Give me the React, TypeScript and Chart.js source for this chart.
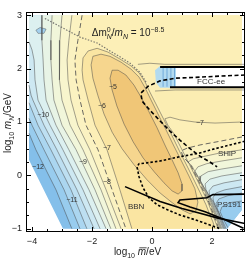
import { useEffect, useRef } from "react";
import { Chart, registerables } from "chart.js";

Chart.register(...registerables);

type Pt = [number, number];

// ---------- axes ----------
const X_MIN = -4.2;
const X_MAX = 3.1;
const Y_MIN = -1.06;
const Y_MAX = 3.06;
const X_TICK_LABELS = [-4, -2, 0, 2];
const Y_TICK_LABELS = [-1, 0, 1, 2, 3];
const X_MINOR_STEP = 0.5;
const Y_MINOR_STEP = 0.25;

// ---------- domain of the scan (white outside) ----------
const DOMAIN: Pt[] = [[-4.1, 3], [3, 3], [3, -0.645], [2.5, -1], [-2.967, -1], [-4.1, 0.29]];
const CORNER_TL: Pt = [-4.1, 3];
const CORNER_TR: Pt = [3, 3];
const CUT_BR: Pt = [2.5, -1];
const CUT_R: Pt = [3, -0.645];

// ---------- contour lines, left family (log10 level) ----------
const L_12: Pt[] = [[-4.1, 0.79], [-3.87, 0.48], [-3.2, -0.27], [-2.67, -1.0]];
const L_11_5: Pt[] = [[-4.1, 1.07], [-4.0, 0.94], [-3.6, 0.48], [-2.93, -0.27], [-2.4, -1.0]];
const L_11: Pt[] = [[-4.1, 1.36], [-3.8, 0.94], [-3.37, 0.48], [-2.7, -0.27], [-2.17, -1.0]];
const L_10_5: Pt[] = [[-4.1, 1.69], [-4.03, 1.5], [-3.97, 1.41], [-3.6, 0.94], [-3.17, 0.48], [-2.5, -0.27], [-1.93, -1.0]];
const L_10: Pt[] = [[-4.1, 2.5], [-4.0, 2.35], [-3.93, 2.16], [-3.9, 1.79], [-3.8, 1.41], [-3.4, 0.94], [-2.97, 0.48], [-2.3, -0.27], [-1.73, -1.0]];
const L_9_5: Pt[] = [[-3.67, 3], [-3.67, 2.53], [-3.63, 2.16], [-3.6, 1.79], [-3.53, 1.41], [-3.2, 0.94], [-2.77, 0.48], [-2.1, -0.27], [-1.53, -1.0]];
const L_9: Pt[] = [[-3.33, 3], [-3.37, 2.53], [-3.37, 2.16], [-3.33, 1.79], [-3.27, 1.41], [-3.0, 0.94], [-2.53, 0.48], [-1.9, -0.27], [-1.37, -1.0]];
const L_8_5: Pt[] = [[-3.0, 3], [-3.07, 2.53], [-3.1, 2.16], [-3.07, 1.79], [-3.0, 1.41], [-2.73, 0.94], [-2.3, 0.48], [-1.7, -0.27], [-1.2, -1.0]];
const L_8: Pt[] = [[-2.67, 3], [-2.77, 2.53], [-2.83, 2.16], [-2.8, 1.79], [-2.7, 1.41], [-2.47, 0.94], [-2.07, 0.48], [-1.53, -0.27], [-1.03, -1.0]];
const L_7_5: Pt[] = [[-2.33, 3], [-2.47, 2.53], [-2.57, 2.16], [-2.53, 1.79], [-2.4, 1.41], [-2.2, 0.94], [-1.8, 0.48], [-1.33, -0.27], [-0.87, -1.0]];
const L_7: Pt[] = [
  [-0.67, -1.0], [-1.07, -0.27], [-1.5, 0.48], [-1.9, 0.94], [-2.13, 1.41], [-2.3, 1.79], [-2.33, 1.97], [-2.3, 2.2],
  [-2.13, 2.33], [-1.83, 2.38], [-1.47, 2.31], [-1.07, 2.18], [-0.7, 2.05], [-0.43, 1.92], [-0.23, 1.75], [-0.07, 1.56],
  [0.13, 1.34], [0.4, 1.04], [0.67, 0.74], [0.93, 0.44], [1.2, 0.14], [1.43, -0.12], [1.63, -0.35], [1.8, -0.55],
  [1.93, -0.74], [2.03, -0.87], [2.1, -1.0],
];
const E_6: Pt[] = [
  [-1.97, 2.23], [-1.7, 2.27], [-1.4, 2.23], [-1.03, 2.12], [-0.7, 1.99], [-0.43, 1.84], [-0.23, 1.64], [-0.03, 1.41],
  [0.2, 1.15], [0.47, 0.85], [0.73, 0.55], [1.0, 0.25], [1.23, -0.01], [1.43, -0.25], [1.53, -0.5], [1.47, -0.66],
  [1.27, -0.72], [1.0, -0.645], [0.67, -0.51], [0.27, -0.33], [-0.17, -0.08], [-0.6, 0.2], [-1.0, 0.5], [-1.33, 0.81],
  [-1.6, 1.15], [-1.8, 1.49], [-1.97, 1.82], [-2.03, 2.07], [-1.97, 2.23],
];
const E_5: Pt[] = [
  [-1.33, 1.97], [-1.13, 1.97], [-0.87, 1.88], [-0.6, 1.69], [-0.37, 1.47], [-0.1, 1.19], [0.17, 0.89], [0.43, 0.57],
  [0.67, 0.29], [0.87, 0.05], [1.0, -0.16], [1.0, -0.29], [0.87, -0.35], [0.67, -0.29], [0.4, -0.14], [0.07, 0.07],
  [-0.3, 0.33], [-0.63, 0.63], [-0.93, 0.96], [-1.17, 1.3], [-1.33, 1.6], [-1.4, 1.82], [-1.33, 1.97],
];

// ---------- contour lines, right family ----------
const R_7: Pt[] = [[3.0, 1.0], [2.1, 0.98], [1.43, 1.0], [0.93, 1.04], [0.6, 1.09], [0.43, 1.06], [0.53, 0.94], [0.73, 0.78], [1.0, 0.48], [1.27, 0.18], [1.5, -0.08], [1.7, -0.31], [1.87, -0.51], [2.0, -0.7], [2.1, -0.85], [2.2, -1.0]];
const R_7_5: Pt[] = [[3.0, 0.72], [2.27, 0.64], [1.6, 0.57], [1.17, 0.51], [0.97, 0.46], [1.03, 0.36], [1.3, 0.18], [1.53, -0.08], [1.73, -0.31], [1.9, -0.51], [2.03, -0.7], [2.13, -0.85], [2.23, -1.0]];
const R_8: Pt[] = [[3.0, 0.48], [2.27, 0.42], [1.77, 0.36], [1.37, 0.31], [1.2, 0.25], [1.33, 0.18], [1.57, -0.08], [1.77, -0.31], [1.93, -0.51], [2.07, -0.7], [2.17, -0.85], [2.27, -1.0]];
const R_8_5: Pt[] = [[3.0, 0.33], [2.33, 0.27], [1.83, 0.22], [1.53, 0.16], [1.43, 0.08], [1.6, -0.08], [1.8, -0.31], [1.97, -0.51], [2.1, -0.7], [2.2, -0.85], [2.3, -1.0]];
const R_9: Pt[] = [[3.0, 0.18], [2.33, 0.12], [1.87, 0.07], [1.63, -0.01], [1.6, -0.1], [1.83, -0.31], [2.0, -0.51], [2.13, -0.7], [2.23, -0.85], [2.33, -1.0]];
const R_9_5: Pt[] = [[3.0, 0.05], [2.33, -0.01], [1.93, -0.07], [1.77, -0.16], [1.8, -0.27], [2.03, -0.51], [2.17, -0.7], [2.27, -0.85], [2.37, -1.0]];
const R_10: Pt[] = [[3.0, -0.08], [2.4, -0.14], [2.03, -0.2], [1.9, -0.29], [1.93, -0.4], [2.07, -0.51], [2.2, -0.7], [2.3, -0.85], [2.4, -1.0]];
const R_10_5: Pt[] = [[3.0, -0.21], [2.43, -0.27], [2.13, -0.33], [2.03, -0.42], [2.07, -0.53], [2.23, -0.7], [2.33, -0.85], [2.43, -1.0]];
const R_11: Pt[] = [[3.0, -0.33], [2.53, -0.38], [2.23, -0.44], [2.13, -0.53], [2.2, -0.66], [2.3, -0.79], [2.4, -0.91], [2.47, -1.0]];
const R_11_5: Pt[] = [[3.0, -0.48], [2.6, -0.51], [2.33, -0.59], [2.27, -0.68], [2.37, -0.81], [2.53, -0.98]];
const R7_EDGE: Pt[] = [[0.25, 1.3], [0.03, 1.57], [0.77, 1.6], [3.0, 1.6]];

// ---------- fold / small features ----------
const V_UPPER: Pt[] = [[-3.57, 2.94], [-2.97, 2.76], [-2.4, 2.59], [-1.83, 2.48], [-1.4, 2.33], [-1.07, 2.22], [-0.73, 2.1], [-0.4, 1.93], [-0.2, 1.75]];
const SWIRL: Pt[] = [[-3.87, 2.72], [-3.73, 2.77], [-3.53, 2.74], [-3.6, 2.66], [-3.8, 2.66], [-3.87, 2.72]];
const FCC_HUG_TOP: Pt[] = [[-0.47, 2.08], [-0.07, 2.1], [0.43, 2.08], [3.1, 2.08]];
const FCC_HUG_BOT: Pt[] = [[0.1, 1.58], [0.77, 1.6], [3.1, 1.6]];
const FCC_BLUE: Pt[] = [[0.1, 1.97], [0.27, 2.05], [0.83, 2.05], [0.83, 1.64], [0.27, 1.64], [0.13, 1.74]];
const FCC_BLUE_X = [0.37, 0.5, 0.63, 0.75];
const FCC_WHITE: Pt[] = [[0.8, 2.03], [3.1, 2.03], [3.1, 1.65], [0.8, 1.65]];

// ---------- experimental curves ----------
const FCC_TOP: Pt[] = [[0.27, 2.03], [3.1, 2.03]];
const FCC_BOTTOM: Pt[] = [[0.6, 1.65], [3.1, 1.65]];
const FCC_DASHED: Pt[] = [[3.1, 1.88], [2.27, 1.86], [1.6, 1.84], [0.77, 1.82], [0.27, 1.77], [-0.13, 1.67], [-0.37, 1.54], [-0.33, 1.39], [-0.07, 1.22], [0.27, 1.02], [0.6, 0.83], [0.93, 0.66], [1.27, 0.5], [1.6, 0.36], [1.93, 0.25], [2.17, 0.16]];
const SHIP: Pt[] = [[3.1, 0.64], [2.6, 0.57], [2.1, 0.5], [1.6, 0.42], [0.93, 0.35], [0.27, 0.27], [-0.23, 0.23], [-0.43, 0.22], [-0.5, 0.16], [-0.43, -0.03], [-0.3, -0.23], [-0.1, -0.42], [0.17, -0.55], [0.5, -0.64], [0.93, -0.74], [1.43, -0.83], [1.93, -0.93], [2.27, -1.0]];
const PS191: Pt[] = [[3.1, -0.35], [2.03, -0.36], [1.83, -0.42], [0.93, -0.46], [0.87, -0.51], [1.27, -0.59], [1.77, -0.68], [2.43, -0.83], [3.05, -0.99]];
const BBN: Pt[] = [[-0.9, -0.21], [0.27, -0.49], [1.0, -0.62], [1.6, -0.71], [2.2, -0.8], [3.1, -0.9]];

// ---------- colours of the bands (low -> high) ----------
const BAND = ["#84bfea", "#98ccee", "#abd6f0", "#bddff1", "#cde8f2", "#dcf0f0", "#e8f4e6", "#f1f6da", "#f8f5cd", "#fbf2c1", "#fcefb7", "#fae5a2", "#f6d68e", "#f0c677"];
const R7_COLOR = "#fbedb2";

// ---------- labels ----------
const CONTOUR_LABEL_TEXT = ["−5", "−6", "−7", "−8", "−9", "−10", "−11", "−12", "−7"];
const CONTOUR_LABEL_X = [-1.3, -1.67, -1.5, -1.5, -2.3, -3.63, -2.67, -3.8, 1.6];
const CONTOUR_LABEL_Y = [1.65, 1.3, 0.51, -0.12, 0.25, 1.13, -0.46, 0.16, 0.98];
const EXP_LABEL_TEXT = ["FCC-ee", "SHiP", "PS191", "BBN"];
const EXP_LABEL_X = [1.97, 2.5, 2.57, -0.53];
const EXP_LABEL_Y = [1.76, 0.4, -0.55, -0.59];
const TITLE_X = -0.8;
const TITLE_Y = 2.61;

const FONT = '"Liberation Sans", Arial, Helvetica, sans-serif';

type Seg = { t: string; size: number; it?: boolean; dy?: number; noAdv?: boolean; bar?: boolean };

function segFont(s: Seg) {
  return `${s.it ? "italic " : ""}${s.size}px ${FONT}`;
}

function drawRich(ctx: CanvasRenderingContext2D, segs: Seg[], cx: number, by: number) {
  let total = 0;
  const widths = segs.map((s) => {
    ctx.font = segFont(s);
    return ctx.measureText(s.t).width;
  });
  segs.forEach((s, i) => {
    if (!s.noAdv) total += widths[i];
  });
  let xx = cx - total / 2;
  ctx.textAlign = "left";
  ctx.textBaseline = "alphabetic";
  segs.forEach((s, i) => {
    ctx.font = segFont(s);
    ctx.fillText(s.t, xx, by + (s.dy || 0));
    if (s.bar) {
      ctx.save();
      ctx.lineWidth = 0.8;
      ctx.strokeStyle = ctx.fillStyle as string;
      ctx.beginPath();
      ctx.moveTo(xx + 1.5, by - s.size * 0.72);
      ctx.lineTo(xx + widths[i] + 0.5, by - s.size * 0.72);
      ctx.stroke();
      ctx.restore();
    }
    if (!s.noAdv) xx += widths[i];
  });
}

const decor = {
  id: "decor",
  afterDatasetsDraw(chart: any) {
    const { ctx, scales } = chart;
    const sx = scales.x;
    const sy = scales.y;
    ctx.save();
    ctx.fillStyle = "#333";
    ctx.textAlign = "center";
    ctx.textBaseline = "middle";
    ctx.font = `7px ${FONT}`;
    CONTOUR_LABEL_TEXT.forEach((t, i) => {
      ctx.fillText(t, sx.getPixelForValue(CONTOUR_LABEL_X[i]), sy.getPixelForValue(CONTOUR_LABEL_Y[i]));
    });
    ctx.font = `8px ${FONT}`;
    EXP_LABEL_TEXT.forEach((t, i) => {
      ctx.fillText(t, sx.getPixelForValue(EXP_LABEL_X[i]), sy.getPixelForValue(EXP_LABEL_Y[i]));
    });
    ctx.fillStyle = "#222";
    drawRich(
      ctx,
      [
        { t: "Δm", size: 10 },
        { t: "0", size: 7, dy: -4.5, noAdv: true },
        { t: "N", size: 7, it: true, dy: 2.5 },
        { t: "/", size: 10 },
        { t: "m", size: 10, it: true },
        { t: "N", size: 7, it: true, dy: 2.5 },
        { t: " = 10", size: 10 },
        { t: "−8.5", size: 7, dy: -4.5 },
      ],
      sx.getPixelForValue(TITLE_X),
      sy.getPixelForValue(TITLE_Y)
    );
    ctx.restore();
  },
  afterDraw(chart: any) {
    const { ctx, chartArea, scales } = chart;
    const sx = scales.x;
    const sy = scales.y;
    const { left, right, top, bottom } = chartArea;
    ctx.save();
    ctx.strokeStyle = "#000";
    ctx.lineWidth = 1;
    ctx.strokeRect(left + 0.5, top + 0.5, right - left - 1, bottom - top - 1);
    ctx.beginPath();
    for (let v = -4; v <= 3.0001; v += X_MINOR_STEP) {
      const p = Math.round(sx.getPixelForValue(v)) + 0.5;
      const major = X_TICK_LABELS.includes(Math.round(v * 10) / 10);
      const len = major ? 5 : 3;
      ctx.moveTo(p, bottom);
      ctx.lineTo(p, bottom - len);
      ctx.moveTo(p, top);
      ctx.lineTo(p, top + len);
    }
    for (let v = -1; v <= 3.0001; v += Y_MINOR_STEP) {
      const p = Math.round(sy.getPixelForValue(v)) + 0.5;
      const major = Y_TICK_LABELS.includes(Math.round(v * 100) / 100);
      const len = major ? 5 : 3;
      ctx.moveTo(left, p);
      ctx.lineTo(left + len, p);
      ctx.moveTo(right, p);
      ctx.lineTo(right - len, p);
    }
    ctx.stroke();

    ctx.fillStyle = "#222";
    ctx.font = `9px ${FONT}`;
    ctx.textAlign = "center";
    ctx.textBaseline = "middle";
    X_TICK_LABELS.forEach((v) => {
      ctx.fillText(v < 0 ? `−${Math.abs(v)}` : `${v}`, sx.getPixelForValue(v), bottom + 10);
    });
    ctx.textAlign = "right";
    Y_TICK_LABELS.forEach((v) => {
      ctx.fillText(v < 0 ? `−${Math.abs(v)}` : `${v}`, left - 4, sy.getPixelForValue(v));
    });

    drawRich(
      ctx,
      [
        { t: "log", size: 10 },
        { t: "10", size: 7, dy: 2.5 },
        { t: " ", size: 10 },
        { t: "m", size: 10, it: true, bar: true },
        { t: "/eV", size: 10 },
      ],
      (left + right) / 2 + 2,
      bottom + 23
    );
    ctx.save();
    ctx.translate(11, (top + bottom) / 2 + 1);
    ctx.rotate(-Math.PI / 2);
    drawRich(
      ctx,
      [
        { t: "log", size: 10 },
        { t: "10", size: 7, dy: 2.5 },
        { t: " ", size: 10 },
        { t: "m", size: 10, it: true },
        { t: "N", size: 7, it: true, dy: 2.5 },
        { t: "/GeV", size: 10 },
      ],
      0,
      0
    );
    ctx.restore();
    ctx.restore();
  },
};

const toXY = (pts: Pt[]) => pts.map(([x, y]) => ({ x, y }));
const rev = (a: Pt[]) => [...a].reverse();

export default function App() {
  const ref = useRef<HTMLCanvasElement | null>(null);

  useEffect(() => {
    if (!ref.current) return;

    const fills: { pts: Pt[]; color: string }[] = [
      { pts: DOMAIN, color: BAND[0] },
      { pts: [...L_12, CUT_BR, CUT_R, CORNER_TR, CORNER_TL], color: BAND[1] },
      { pts: [...L_11_5, CUT_BR, ...rev(R_11_5), CORNER_TR, CORNER_TL], color: BAND[2] },
      { pts: [...L_11, ...rev(R_11), CORNER_TR, CORNER_TL], color: BAND[3] },
      { pts: [...L_10_5, ...rev(R_10_5), CORNER_TR, CORNER_TL], color: BAND[4] },
      { pts: [...L_10, ...rev(R_10), CORNER_TR, CORNER_TL], color: BAND[5] },
      { pts: [...L_9_5, ...rev(R_9_5), CORNER_TR], color: BAND[6] },
      { pts: [...L_9, ...rev(R_9), CORNER_TR], color: BAND[7] },
      { pts: [...L_8_5, ...rev(R_8_5), CORNER_TR], color: BAND[8] },
      { pts: [...L_8, ...rev(R_8), CORNER_TR], color: BAND[9] },
      { pts: [...L_7_5, ...rev(R_7_5), CORNER_TR], color: BAND[10] },
      { pts: L_7, color: BAND[11] },
      { pts: [...R_7.slice(0, 6), ...R7_EDGE], color: R7_COLOR },
      { pts: E_6, color: BAND[12] },
      { pts: E_5, color: BAND[13] },
      { pts: SWIRL, color: "#a3d0ee" },
    ];

    const grey = "rgba(70,70,70,0.7)";
    const strokes: { pts: Pt[]; color: string; width: number; dash?: number[] }[] = [
      ...[L_12, L_11_5, L_11, L_10_5, L_10, L_9_5, L_9, L_8_5, L_8, L_7].map((pts) => ({ pts, color: grey, width: 0.7 })),
      { pts: L_7_5, color: "rgba(80,80,80,0.85)", width: 1, dash: [5, 3] },
      ...[R_7, R_8, R_8_5, R_9, R_9_5, R_10, R_10_5, R_11, R_11_5].map((pts) => ({ pts, color: grey, width: 0.7 })),
      { pts: R_7_5, color: "rgba(80,80,80,0.85)", width: 1, dash: [5, 3] },
      { pts: E_6, color: grey, width: 0.7 },
      { pts: E_5, color: grey, width: 0.7 },
      { pts: V_UPPER, color: "rgba(90,90,90,0.8)", width: 1.2, dash: [1.5, 1.5] },
      { pts: SWIRL, color: grey, width: 0.6 },
      { pts: FCC_HUG_TOP, color: grey, width: 0.7 },
      { pts: FCC_HUG_BOT, color: grey, width: 0.7 },
    ];

    const top: any[] = [
      { pts: FCC_BLUE, color: "#b3dbf0", fill: true },
      ...FCC_BLUE_X.map((x) => ({ pts: [[x, 1.66], [x, 2.02]] as Pt[], color: "rgba(60,130,200,0.8)", width: 0.7 })),
      { pts: FCC_WHITE, color: "#ffffff", fill: true },
      { pts: FCC_TOP, color: "#000", width: 2 },
      { pts: FCC_BOTTOM, color: "#000", width: 2 },
      { pts: FCC_DASHED, color: "#000", width: 1.6, dash: [4, 2.5] },
      { pts: SHIP, color: "#000", width: 1.6, dash: [2.5, 2] },
      { pts: PS191, color: "#000", width: 1.6 },
      { pts: BBN, color: "#000", width: 1.6 },
    ];

    const layered: any[] = [];
    fills.forEach((f) =>
      layered.push({
        data: toXY(f.pts),
        showLine: true,
        fill: "shape",
        backgroundColor: f.color,
        borderColor: "rgba(0,0,0,0)",
        borderWidth: 1,
        pointRadius: 0,
      })
    );
    strokes.forEach((s) =>
      layered.push({
        data: toXY(s.pts),
        showLine: true,
        fill: false,
        borderColor: s.color,
        borderWidth: s.width,
        borderDash: s.dash || [],
        pointRadius: 0,
      })
    );
    top.forEach((s) =>
      layered.push(
        s.fill
          ? {
              data: toXY(s.pts),
              showLine: true,
              fill: "shape",
              backgroundColor: s.color,
              borderColor: "rgba(0,0,0,0)",
              borderWidth: 1,
              pointRadius: 0,
            }
          : {
              data: toXY(s.pts),
              showLine: true,
              fill: false,
              borderColor: s.color,
              borderWidth: s.width,
              borderDash: s.dash || [],
              pointRadius: 0,
            }
      )
    );
    const n = layered.length;
    layered.forEach((d, i) => {
      d.order = n - i;
    });

    const chart = new Chart(ref.current, {
      type: "scatter",
      data: { datasets: layered },
      options: {
        animation: false,
        responsive: false,
        devicePixelRatio: 1,
        events: [],
        layout: { padding: { left: 26, right: 4, top: 12, bottom: 27 } },
        scales: {
          x: { type: "linear", min: X_MIN, max: X_MAX, display: false },
          y: { type: "linear", min: Y_MIN, max: Y_MAX, display: false },
        },
        elements: { point: { radius: 0 }, line: { tension: 0 } },
        plugins: {
          legend: { display: false },
          tooltip: { enabled: false },
          filler: { propagate: false },
        },
      } as any,
      plugins: [decor as any],
    });
    return () => chart.destroy();
  }, []);

  return (
    <div style={{ position: "fixed", left: 0, top: 0, width: 249, height: 259, background: "#fff" }}>
      <canvas ref={ref} width={249} height={259} style={{ display: "block" }} />
    </div>
  );
}
